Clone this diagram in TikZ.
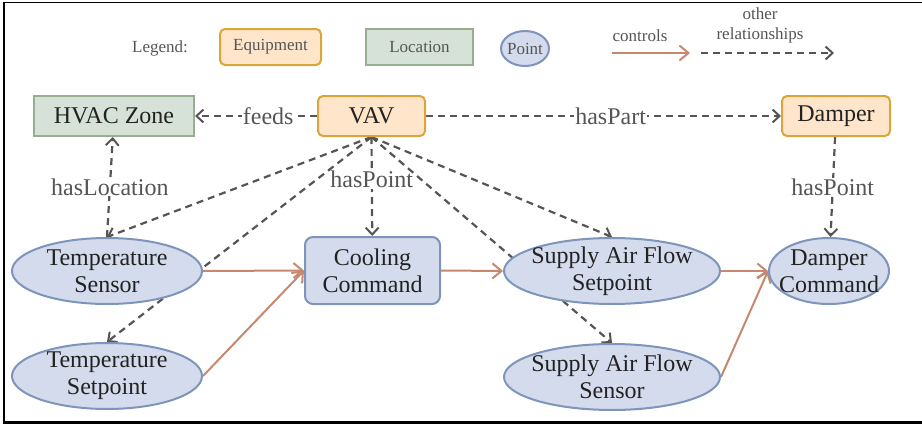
\documentclass[tikz,border=0pt]{standalone}
\usepackage{fontspec}
\setmainfont{Liberation Serif}
\newfontfamily\tnr{Liberation Serif}
\usetikzlibrary{arrows.meta,shapes.geometric,backgrounds}
\definecolor{eqfill}{HTML}{FFE5C9}
\definecolor{eqdraw}{HTML}{D9A63C}
\definecolor{lofill}{HTML}{D6E2D7}
\definecolor{lodraw}{HTML}{97AE90}
\definecolor{ptfill}{HTML}{D4DBEC}
\definecolor{ptdraw}{HTML}{7E94BB}
\definecolor{ctl}{HTML}{C4896F}
\definecolor{rel}{HTML}{555555}
\definecolor{txt}{HTML}{222222}
\tikzset{
  bigtext/.style={font=\tnr\fontsize{24}{27}\selectfont, text=txt, align=center},
  equip/.style={bigtext, draw=eqdraw, fill=eqfill, line width=2pt, rounded corners=5pt, inner sep=0pt},
  locbox/.style={bigtext, draw=lodraw, fill=lofill, line width=2pt, inner sep=0pt},
  pointbox/.style={bigtext, draw=ptdraw, fill=ptfill, line width=2pt, inner sep=0pt},
  pointell/.style={bigtext, ellipse, draw=ptdraw, fill=ptfill, line width=2pt, inner xsep=-14pt, inner ysep=-3pt},
  relarrow/.style={draw=rel, line width=2.2pt, dash pattern=on 7pt off 5pt, -{Straight Barb[length=7pt,width=13pt,line width=2pt]}},
  ctlarrow/.style={draw=ctl, line width=2pt, -{Straight Barb[length=9pt,width=15pt,line width=2pt]}},
  rellabel/.style={font=\tnr\fontsize{24}{27}\selectfont, text=rel, fill=white, inner sep=1pt},
  legtext/.style={font=\tnr\fontsize{17}{20}\selectfont, text=rel, align=center},
}
\begin{document}
\begin{tikzpicture}[x=1pt,y=-1pt]
\useasboundingbox (0,0) rectangle (922,426);
% legend
\node[legtext] (lg) at (160,48) {Legend:};
\node[legtext, draw=eqdraw, fill=eqfill, line width=2pt, rounded corners=5pt, minimum width=101pt, minimum height=36pt, inner sep=0pt] (leq) at (270.5,47) {Equipment};
\node[legtext, draw=lodraw, fill=lofill, line width=2pt, minimum width=107pt, minimum height=36pt, inner sep=0pt] (llo) at (419.5,47) {Location};
\node[legtext, ellipse, draw=ptdraw, fill=ptfill, line width=2pt, minimum width=48pt, minimum height=35pt, inner sep=-4pt] (lpt) at (525,48.5) {Point};
\coordinate (c1) at (612,53);
\coordinate (c2) at (690,53);
\coordinate (d1) at (701,53);
\coordinate (d2) at (834,53);
\draw[ctlarrow] (c1) -- (c2);
\draw[relarrow] (d1) -- (d2);
\node[legtext] (lc) at (640,36) {controls};
\node[legtext] (lr) at (760,25) {other\\relationships};
% nodes
\node[locbox, minimum width=160pt, minimum height=40pt] (hz) at (114,116) {HVAC Zone};
\node[equip, minimum width=107pt, minimum height=40pt] (vav) at (371.5,116) {VAV};
\node[equip, minimum width=108pt, minimum height=40pt] (dmp) at (836,116) {Damper};
\node[pointell, minimum width=190pt, minimum height=66pt] (ts) at (107,271) {Temperature\\Sensor};
\node[pointell, minimum width=190pt, minimum height=66pt] (tsp) at (107,376) {Temperature\\Setpoint};
\node[pointbox, rounded corners=8pt, minimum width=135pt, minimum height=67pt] (cc) at (372.5,270.5) {Cooling\\Command};
\node[pointell, minimum width=216pt, minimum height=66pt] (sfsp) at (612,271) {Supply Air Flow\\Setpoint};
\node[pointell, minimum width=216pt, minimum height=66pt] (sfs) at (612,377) {Supply Air Flow\\Sensor};
\node[pointell, minimum width=120pt, minimum height=66pt] (dc) at (829,271) {Damper\\Command};
% edges
\begin{pgfonlayer}{background}
\draw[relarrow] (vav) -- node[rellabel, pos=0.4] {feeds} (hz);
\draw[relarrow] (vav) -- node[rellabel, pos=0.52] {hasPart} (dmp);
\draw[relarrow] (dmp) -- node[rellabel, pos=0.5] {hasPoint} (dc);
\draw[relarrow] (ts.north) -- node[rellabel, pos=0.5] {hasLocation} (hz);
\draw[relarrow] (vav.south) -- node[rellabel, pos=0.43] {hasPoint} (cc);
\draw[relarrow] (vav.south) -- (ts.north);
\draw[relarrow] (vav.south) -- (tsp.north);
\draw[relarrow] (vav.south) -- (sfsp.north);
\draw[relarrow] (vav.south) -- (sfs.north);
\draw[ctlarrow] (ts.east) -- (cc.west);
\draw[ctlarrow] (tsp.east) -- (cc.west);
\draw[ctlarrow] (cc.east) -- (sfsp.west);
\draw[ctlarrow] (sfsp.east) -- (dc.west);
\draw[ctlarrow] (sfs.east) -- (dc.west);
\end{pgfonlayer}
% frame
\draw[line width=1.5pt] (3,2.5) -- (922,2.5);
\draw[line width=2.5pt] (4,2) -- (4,423);
\draw[line width=3pt] (3,422.5) -- (922,422.5);
\end{tikzpicture}
\end{document}
